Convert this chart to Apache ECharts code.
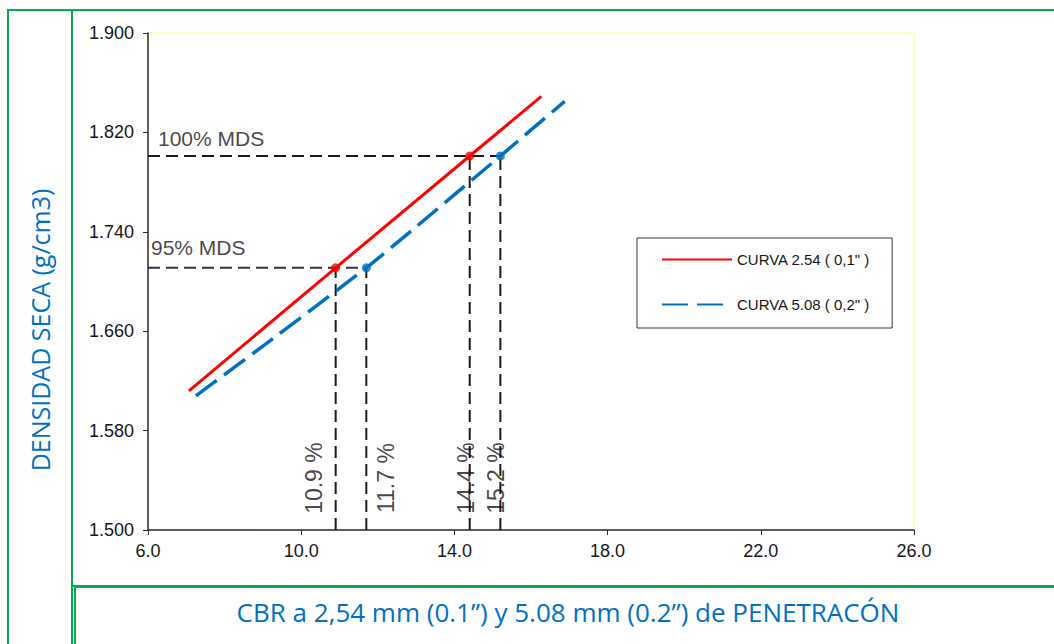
<!DOCTYPE html>
<html>
<head>
<meta charset="utf-8">
<title>CBR - Densidad seca</title>
<script src="https://cdn.jsdelivr.net/npm/echarts@6/dist/echarts.min.js"></script>
<style>
  html, body { margin: 0; padding: 0; background: #ffffff; }
  #chart { width: 1054px; height: 644px; }
</style>
</head>
<body>
<div id="chart"></div>
<script>
// Curva 2.54 mm (0.1") : CBR (%) vs densidad seca (g/cm3)
const cbrCurve254 = [7.07, 10.9, 14.4, 16.27];
const densCurve254 = [1.612, 1.711, 1.801, 1.849];

// Curva 5.08 mm (0.2")
const cbrCurve508 = [7.25, 9.0, 11.7, 13.0, 15.2, 16.88];
const densCurve508 = [1.608, 1.648, 1.711, 1.744, 1.801, 1.845];

// Máxima densidad seca y 95 %
const mds100 = 1.801;
const mds95 = 1.711;

const cbrAt95 = [10.9, 11.7];
const cbrAt100 = [14.4, 15.2];

// Ejes
const xMin = 6, xMax = 26, xStep = 4;
const yMin = 1.5, yMax = 1.9, yStep = 0.08;

const seriesNames = ['CURVA 2.54 ( 0,1" )', 'CURVA 5.08 ( 0,2" )'];
const mdsLabels = ['100% MDS', '95% MDS'];
const xTitle = 'CBR a 2,54 mm (0.1\u201d) y 5.08 mm (0.2\u201d) de PENETRAC\u00d3N';
const yTitle = 'DENSIDAD SECA (g/cm3)';

const zip = (xs, ys) => xs.map((x, i) => [x, ys[i]]);

const ARIAL = '"Liberation Sans", Arial, sans-serif';
const TITLE_FONT = '"Open Sans", sans-serif';
const BLUE = '#0070c0';
const GREEN = '#00b050';
const INK = '#151515';

function refLine(points, color) {
  return {
    type: 'line',
    data: points,
    symbol: 'none',
    silent: true,
    z: 2,
    lineStyle: { color: color, width: 2, type: [12, 6] }
  };
}

const cbrLabelPoints = [
  { x: cbrAt95[0], dx: -22 },
  { x: cbrAt95[1], dx: 20 },
  { x: cbrAt100[0], dx: -4 },
  { x: cbrAt100[1], dx: -4 }
];

const chart = echarts.init(document.getElementById('chart'), null, { renderer: 'svg' });

chart.setOption({
  animation: false,
  backgroundColor: '#ffffff',
  grid: {
    left: 148, right: 140, top: 33, bottom: 114,
    show: true, borderColor: '#ffffc4', borderWidth: 2, backgroundColor: 'transparent'
  },
  legend: {
    data: seriesNames,
    orient: 'vertical',
    left: 637, top: 238,
    itemWidth: 70, itemHeight: 14, itemGap: 30,
    padding: [14, 22, 16, 24],
    borderColor: '#333333', borderWidth: 1,
    backgroundColor: '#ffffff',
    itemStyle: { opacity: 0, borderWidth: 0 },
    textStyle: { fontFamily: ARIAL, fontSize: 15, color: INK }
  },
  xAxis: {
    type: 'value', min: xMin, max: xMax, interval: xStep,
    axisLine: { show: true, onZero: false, lineStyle: { color: '#2a2a2a', width: 1.5 } },
    axisTick: { show: true, length: 5, lineStyle: { color: '#2a2a2a' } },
    splitLine: { show: false },
    axisLabel: {
      margin: 12, fontFamily: ARIAL, fontSize: 18, color: INK,
      formatter: v => v.toFixed(1)
    }
  },
  yAxis: {
    type: 'value', min: yMin, max: yMax, interval: yStep,
    axisLine: { show: true, onZero: false, lineStyle: { color: '#2a2a2a', width: 1.5 } },
    axisTick: { show: true, length: 5, lineStyle: { color: '#2a2a2a' } },
    splitLine: { show: false },
    axisLabel: {
      margin: 14, fontFamily: ARIAL, fontSize: 18, color: INK,
      formatter: v => v.toFixed(3)
    }
  },
  graphic: [
    { type: 'rect', shape: { x: 8, y: 10, width: 64, height: 700 }, style: { fill: 'none', stroke: GREEN, lineWidth: 2 }, silent: true },
    { type: 'rect', shape: { x: 72, y: 10, width: 1100, height: 576 }, style: { fill: 'none', stroke: GREEN, lineWidth: 2 }, silent: true },
    { type: 'rect', shape: { x: 75, y: 587, width: 1100, height: 100 }, style: { fill: 'none', stroke: GREEN, lineWidth: 2 }, silent: true },
    {
      type: 'text', x: 40, y: 330, rotation: Math.PI / 2,
      style: { text: yTitle, fill: BLUE, font: '25px ' + TITLE_FONT, textAlign: 'center', textVerticalAlign: 'middle' }
    },
    {
      type: 'text', x: 568, y: 612,
      style: { text: xTitle, fill: BLUE, font: '26px ' + TITLE_FONT, textAlign: 'center', textVerticalAlign: 'middle' }
    }
  ],
  series: [
    // guías de 100 % y 95 % MDS
    refLine([[xMin, mds100], [cbrAt100[1], mds100]], '#1a1a1a'),
    refLine([[xMin, mds95], [cbrAt95[1], mds95]], '#3d2b45'),
    refLine([[cbrAt95[0], yMin], [cbrAt95[0], mds95]], '#1a1a1a'),
    refLine([[cbrAt95[1], yMin], [cbrAt95[1], mds95]], '#1a1a1a'),
    refLine([[cbrAt100[0], yMin], [cbrAt100[0], mds100]], '#1a1a1a'),
    refLine([[cbrAt100[1], yMin], [cbrAt100[1], mds100]], '#1a1a1a'),
    {
      name: seriesNames[0],
      type: 'line',
      data: zip(cbrCurve254, densCurve254),
      symbol: 'none',
      z: 4,
      itemStyle: { color: '#ff0000' },
      lineStyle: { color: '#ff0000', width: 3 }
    },
    {
      name: seriesNames[1],
      type: 'line',
      data: zip(cbrCurve508, densCurve508),
      symbol: 'none',
      smooth: 0.2,
      z: 4,
      itemStyle: { color: BLUE },
      lineStyle: { color: BLUE, width: 3.5, type: [26, 9] }
    },
    // puntos de lectura
    {
      type: 'scatter',
      data: [[cbrAt95[0], mds95], [cbrAt100[0], mds100]],
      symbolSize: 9, z: 5,
      itemStyle: { color: '#ff0000' }
    },
    {
      type: 'scatter',
      data: [[cbrAt95[1], mds95], [cbrAt100[1], mds100]],
      symbolSize: 9, z: 5,
      itemStyle: { color: BLUE }
    },
    // rótulos de MDS
    {
      type: 'scatter',
      symbolSize: 0, z: 6, silent: true,
      data: [
        { value: [xMin, mds100], label: { position: [10, -18] }, name: mdsLabels[0] },
        { value: [xMin, mds95], label: { position: [3, -20] }, name: mdsLabels[1] }
      ],
      label: {
        show: true, formatter: p => p.name,
        align: 'left', verticalAlign: 'middle',
        fontFamily: ARIAL, fontSize: 21, color: INK
      }
    },
    // rótulos verticales de CBR
    {
      type: 'scatter',
      symbolSize: 0, z: 6, silent: true,
      data: cbrLabelPoints.map(p => ({
        value: [p.x, 1.5418],
        label: { position: [p.dx, 0] }
      })),
      label: {
        show: true, rotate: 90,
        formatter: p => p.value[0].toFixed(1) + ' %',
        align: 'center', verticalAlign: 'middle',
        fontFamily: ARIAL, fontSize: 23, color: INK
      }
    }
  ]
});
</script>
</body>
</html>
